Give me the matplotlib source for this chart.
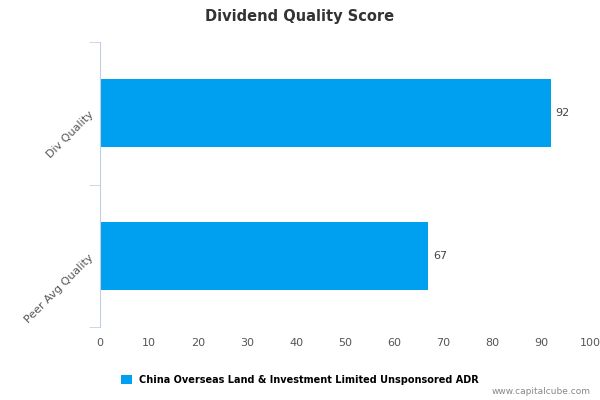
import matplotlib
matplotlib.use("Agg")
import matplotlib.pyplot as plt

categories = ["Peer Avg Quality", "Div Quality"]
values = [67, 92]
xticks = [0, 10, 20, 30, 40, 50, 60, 70, 80, 90, 100]
series_name = "China Overseas Land & Investment Limited Unsponsored ADR"
color = "#00a0f0"

fig = plt.figure(figsize=(6, 4), dpi=100)
ax = fig.add_axes([100/600, 1-327/400, 490/600, 285/400])
pos = list(range(len(categories)))
bars = ax.barh(pos, values, height=0.48, color=color, label=series_name)
for p, v in zip(pos, values):
    ax.text(v + 1, p, str(v), va="center", ha="left", fontsize=8, color="#444444")
ax.set_xlim(0, 100)
ax.set_ylim(-0.5, 1.5)
ax.set_xticks(xticks)
ax.set_xticklabels([str(t) for t in xticks], fontsize=8, color="#555555")
ax.tick_params(axis="x", length=0, pad=8)
ax.set_yticks(pos)
ax.set_yticklabels(categories, rotation=45, ha="right", va="center", fontsize=8, color="#555555", rotation_mode="anchor")
ax.tick_params(axis="y", which="major", length=0, pad=6)
ax.set_yticks([-0.5, 0.5, 1.5], minor=True)
ax.tick_params(axis="y", which="minor", length=8, color="#c0d0e0")
for s in ["top", "right", "bottom"]:
    ax.spines[s].set_visible(False)
ax.spines["left"].set_color("#c0d0e0")
fig.text(0.5, 1-16/400, "Dividend Quality Score", ha="center", va="center", fontsize=10.5, fontweight="bold", color="#333333")
fig.legend(handles=[bars], labels=[series_name], loc="center", bbox_to_anchor=(0.5, 1-380/400), frameon=False,
           prop={"size": 7, "weight": "bold"}, handlelength=1.1, handleheight=1.1)
fig.text(0.985, 1-392/400, "www.capitalcube.com", ha="right", va="center", fontsize=6.5, color="#888888")
fig.savefig("out.png", dpi=100)
